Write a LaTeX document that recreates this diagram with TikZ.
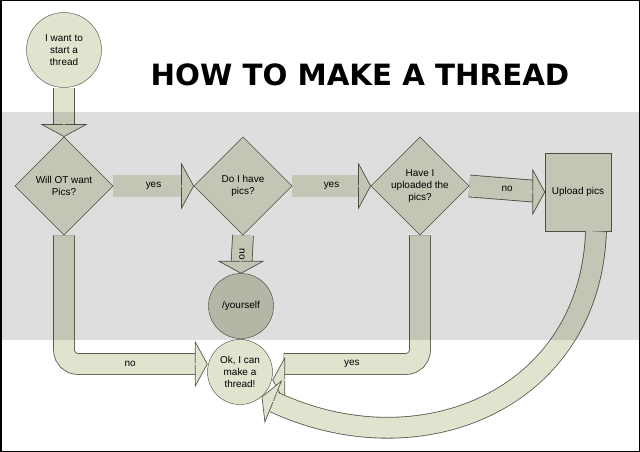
\documentclass[tikz,border=0pt]{standalone}
\usepackage{fontspec}
\setmainfont{Liberation Sans}
\usetikzlibrary{calc, positioning, shapes.geometric}
\definecolor{boxfill}{RGB}{224,228,207}
\definecolor{darkfill}{RGB}{208,210,190}
\definecolor{edge}{RGB}{90,90,80}
\tikzset{
  font={\fontsize{8.5pt}{10}\selectfont},
  every node/.style={align=center},
  decision/.style={diamond, aspect=1, minimum size=2.95cm, inner sep=0pt, draw=edge, fill=boxfill},
  roundbox/.style={circle, minimum size=1.95cm, inner sep=0pt, draw=edge, fill=boxfill},
  process/.style={rectangle, minimum width=1.98cm, minimum height=2.35cm, draw=edge, fill=boxfill},
  fat/.style={draw=edge, double=boxfill, double distance=0.6cm, line width=0.7pt},
  head/.style={draw=edge, fill=boxfill, line width=0.6pt}
}
% block arrow head: tip coordinate, direction angle
\newcommand\bighead[2]{\filldraw[head, rotate around={#2:#1}]
  ($#1+(-12,0.7)$) -- ($#1+(-12,22)$) -- #1 -- ($#1+(-12,-22)$) -- ($#1+(-12,-0.7)$);}
\begin{document}
\begin{tikzpicture}[x=0.03cm, y=-0.03cm]
    \useasboundingbox (0,0) rectangle (640,452);
    \fill[white] (0,0) rectangle (640,452);

    \node (start) [roundbox, minimum size=2.25cm] at (64,50) {I want to\\start a\\thread};
    \node (title) at (360,75) {\fontspec{DejaVu Sans}\bfseries\fontsize{25pt}{28}\selectfont HOW TO MAKE A THREAD};
    \node (wantpics) [decision] at (64,186) {Will OT want\\Pics?};
    \node (havepics) [decision] at (243,186) {Do I have\\pics?};
    \node (uploaded) [decision] at (420,186) {Have I\\uploaded the\\pics?};
    \node (upload) [process] at (578,192) {Upload pics};
    \node (yourself) [roundbox, fill=darkfill] at (241,306) {/yourself};
    \node (done) [roundbox] at (240,372) {Ok, I can\\make a\\thread!};

    % straight arrows
    \draw [fat, shorten >=10] (start) -- (wantpics.north);
    \bighead{(wantpics.north)}{-90}
    \draw [fat, shorten >=10, double distance=0.63cm] (wantpics.east) -- node {yes} (havepics.west);
    \bighead{(havepics.west)}{0}
    \draw [fat, shorten >=10, double distance=0.63cm] (havepics.east) -- node {yes} (uploaded.west);
    \bighead{(uploaded.west)}{0}
    \draw [fat, shorten >=10, double distance=0.63cm] (uploaded.east) -- node {no} (upload.west);
    \bighead{(upload.west)}{0}
    \draw [fat, shorten >=10] (havepics.south) -- node[rotate=-90] {no} (yourself.north);
    \bighead{(yourself.north)}{-90}

    % bent arrows
    \draw [fat, rounded corners=12] (wantpics.south) |- node[pos=0.75] {no} ($(done.west)+(-11,-8)$);
    \bighead{($(done.west)+(0,-8)$)}{0}
    \draw [fat, rounded corners=12] (uploaded.south) |- node[pos=0.75] {yes} ($(done.east)+(11,-8)$);
    \bighead{($(done.east)+(0,-8)$)}{180}
    \coordinate (curveend) at (274,402);
    \draw [fat] ($(upload.south)+(18,0)$) .. controls (590,400) and (420,470) .. (curveend);
    \bighead{(262,397)}{158}

    % watermark band and frame
    \fill[black, opacity=0.13] (0,112) rectangle (640,340);
    \draw[line width=0.09cm] (0,0) rectangle (640,452);
\end{tikzpicture}
\end{document}
